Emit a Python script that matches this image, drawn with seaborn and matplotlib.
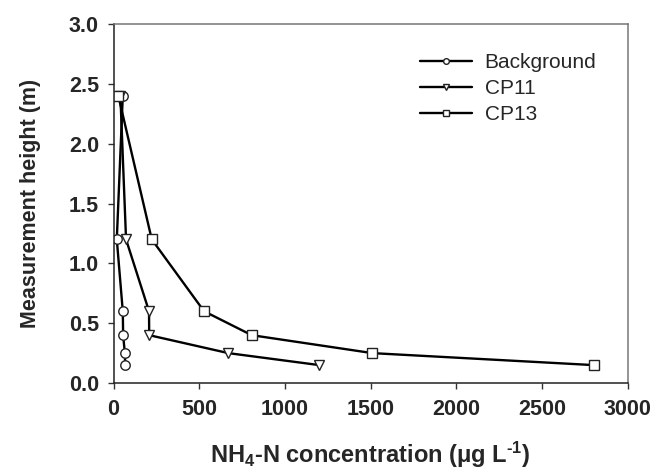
import matplotlib
matplotlib.use('Agg')
import matplotlib.pyplot as plt
import seaborn as sns

# Measurement heights (m), top to bottom
heights = [2.4, 1.2, 0.6, 0.4, 0.25, 0.15]

# NH4-N concentration (ug L-1) at each height
background = [54, 19, 54, 56, 66, 68]
cp11 = [40, 73, 207, 208, 670, 1200]
cp13 = [28, 223, 528, 806, 1510, 2800]

series_names = ['Background', 'CP11', 'CP13']
series_markers = ['o', 'v', 's']

sns.set_theme(style='white')
plt.rcParams['font.family'] = ['Liberation Sans', 'DejaVu Sans']
plt.rcParams['mathtext.fontset'] = 'custom'
plt.rcParams['mathtext.rm'] = 'Liberation Sans:bold'
plt.rcParams['mathtext.it'] = 'Liberation Sans:bold'
plt.rcParams['mathtext.bf'] = 'Liberation Sans:bold'

fig = plt.figure(figsize=(6.54, 4.70), dpi=100)
ax = fig.add_axes([0.1736, 0.185, 0.7864, 0.764])

for name, vals, mk in zip(series_names, [background, cp11, cp13], series_markers):
    sns.lineplot(x=vals, y=heights, sort=False, estimator=None, ax=ax,
                 color='black', linewidth=1.7, marker=mk, markersize=6.8,
                 markerfacecolor='white', markeredgecolor='#222222',
                 markeredgewidth=1.0, label=name)

ax.set_xlim(0, 3000)
ax.set_ylim(0, 3.0)
ax.set_xticks(range(0, 3001, 500))
ax.set_yticks([0, 0.5, 1.0, 1.5, 2.0, 2.5, 3.0])
ax.set_yticklabels(['0.0', '0.5', '1.0', '1.5', '2.0', '2.5', '3.0'])

ax.tick_params(axis='both', which='both', direction='out', length=4.5, width=1,
               color='#333333', labelsize=15.5, bottom=True, left=True)
ax.tick_params(axis='x', pad=7)
ax.tick_params(axis='y', pad=6)
for lab in ax.get_xticklabels() + ax.get_yticklabels():
    lab.set_fontweight('bold')

for side in ['left', 'bottom']:
    ax.spines[side].set_color('#222222')
    ax.spines[side].set_linewidth(1.1)
for side in ['top', 'right']:
    ax.spines[side].set_color('#777777')
    ax.spines[side].set_linewidth(1.1)

ax.set_xlabel(r'NH$_4$-N concentration (μg L$^{\text{-}1}$)', fontsize=17,
              fontweight='bold', labelpad=14)
ax.set_ylabel('Measurement height (m)', fontsize=15.5, fontweight='bold',
              labelpad=20)

leg = ax.legend(loc='upper left', bbox_to_anchor=(0.596, 0.918), frameon=False,
                fontsize=15, markerscale=0.6, handlelength=2.5,
                handletextpad=0.6, labelspacing=0.33, borderpad=0,
                borderaxespad=0)

fig.savefig('out.png', dpi=100)
